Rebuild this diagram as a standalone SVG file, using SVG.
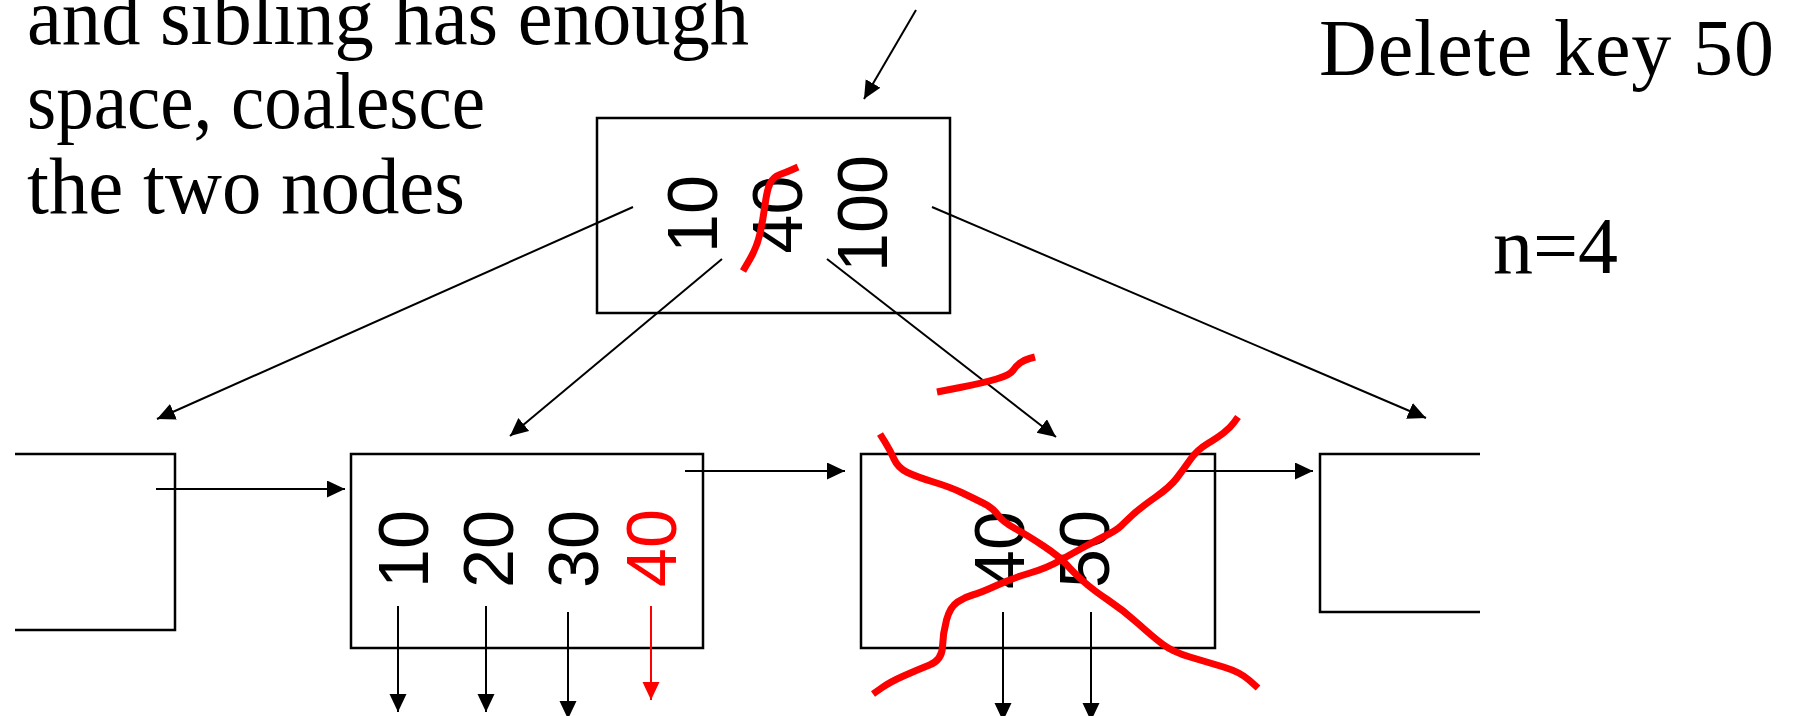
<svg xmlns="http://www.w3.org/2000/svg" width="1794" height="716" viewBox="0 0 1794 716">
<style>
.box{fill:none;stroke:#000;stroke-width:2.5}
.ln{fill:none;stroke:#000;stroke-width:2}
.lnr{fill:none;stroke:#f00;stroke-width:2}
.key{font-family:"Liberation Sans",Arial,sans-serif;font-size:70px;fill:#000}
.keyr{font-family:"Liberation Sans",Arial,sans-serif;font-size:70px;fill:#f00}
.note{font-family:"Liberation Serif","Times New Roman",serif;font-size:80px;fill:#000}
.scr{fill:none;stroke:#f00;stroke-width:7;stroke-linejoin:round;stroke-linecap:butt}
</style>
<defs>
<marker id="ah" markerUnits="userSpaceOnUse" markerWidth="19" markerHeight="18" refX="18" refY="8.5" orient="auto" viewBox="0 0 19 18">
<path d="M0,0 L18,8.5 L0,17 z" fill="#000"/>
</marker>
<marker id="ahr" markerUnits="userSpaceOnUse" markerWidth="19" markerHeight="18" refX="18" refY="8.5" orient="auto" viewBox="0 0 19 18">
<path d="M0,0 L18,8.5 L0,17 z" fill="#f00"/>
</marker>
</defs>

<g id="caption">
<text class="note" x="27" y="44" textLength="722" lengthAdjust="spacingAndGlyphs">and sibling has enough</text>
<text class="note" x="27" y="128" textLength="458" lengthAdjust="spacingAndGlyphs">space, coalesce</text>
<text class="note" x="27" y="213" textLength="438" lengthAdjust="spacingAndGlyphs">the two nodes</text>
</g>

<g id="title">
<text class="note" x="1319" y="75" textLength="455">Delete key 50</text>
<text class="note" x="1493" y="273">n=4</text>
</g>

<g id="node-root">
<rect class="box" x="597" y="118" width="353" height="195"/>
<text class="key" x="717" y="214" text-anchor="middle" transform="rotate(-90 717 214)">10</text>
<text class="key" x="802" y="214.5" text-anchor="middle" transform="rotate(-90 802 214.5)">40</text>
<text class="key" x="887" y="213.5" text-anchor="middle" transform="rotate(-90 887 213.5)">100</text>
<path class="scr" d="M743,271 L750,259 Q757,247 760,233.5 Q763,220 765,205 Q767,190 770,183.5 Q773,177 780,174.5 Q787,172 792.5,169.5 L798,167"/>
</g>

<g id="node-left">
<path class="box" d="M15,454 H175 V630 H15"/>
</g>

<g id="node-midleft">
<rect class="box" x="351" y="454" width="352" height="194"/>
<text class="key" x="428" y="549" text-anchor="middle" transform="rotate(-90 428 549)">10</text>
<text class="key" x="513" y="549" text-anchor="middle" transform="rotate(-90 513 549)">20</text>
<text class="key" x="598" y="549" text-anchor="middle" transform="rotate(-90 598 549)">30</text>
<text class="keyr" x="676" y="548" text-anchor="middle" transform="rotate(-90 676 548)">40</text>
</g>

<g id="node-midright">
<rect class="box" x="861" y="454" width="354" height="194"/>
<text class="key" x="1024" y="550" text-anchor="middle" transform="rotate(-90 1024 550)">40</text>
<text class="key" x="1109" y="549" text-anchor="middle" transform="rotate(-90 1109 549)">50</text>
</g>

<g id="node-right">
<path class="box" d="M1480,454 H1320 V612 H1480"/>
</g>

<g id="connectors">
<line class="ln" x1="916" y1="10" x2="864" y2="99" marker-end="url(#ah)"/>
<line class="ln" x1="633" y1="207" x2="157" y2="419" marker-end="url(#ah)"/>
<line class="ln" x1="722" y1="259" x2="510" y2="436" marker-end="url(#ah)"/>
<line class="ln" x1="827" y1="259" x2="1056" y2="437" marker-end="url(#ah)"/>
<line class="ln" x1="932" y1="207" x2="1426" y2="418" marker-end="url(#ah)"/>
<line class="ln" x1="156" y1="489" x2="345" y2="489" marker-end="url(#ah)"/>
<line class="ln" x1="685" y1="471" x2="845" y2="471" marker-end="url(#ah)"/>
<line class="ln" x1="1185" y1="471" x2="1313" y2="471" marker-end="url(#ah)"/>
<line class="ln" x1="398" y1="606" x2="398" y2="712" marker-end="url(#ah)"/>
<line class="ln" x1="486" y1="606" x2="486" y2="712" marker-end="url(#ah)"/>
<line class="ln" x1="568" y1="612" x2="568" y2="719" marker-end="url(#ah)"/>
<line class="lnr" x1="651" y1="606" x2="651" y2="700" marker-end="url(#ahr)"/>
<line class="ln" x1="1003" y1="612" x2="1003" y2="721" marker-end="url(#ah)"/>
<line class="ln" x1="1091" y1="612" x2="1091" y2="721" marker-end="url(#ah)"/>
</g>

<g id="scribbles">
<path class="scr" d="M937,392 L960,387.5 Q983,383 996.5,379 Q1010,375 1013,370.5 Q1016,366 1020,363 Q1024,360 1029.5,358.5 L1035,357"/>
<path class="scr" d="M880,434 L885,442 Q890,450 894,459 Q898,468 907.5,472.5 Q917,477 933.5,482 Q950,487 961.5,492.5 Q973,498 983,503 Q993,508 998,515 Q1003,522 1015,528.5 Q1027,535 1043.5,546 Q1060,557 1066.5,564.5 Q1073,572 1083,581 Q1093,590 1108,600 Q1123,610 1138,623.5 Q1153,637 1163,644.5 Q1173,652 1190,657 Q1207,662 1223.5,667 Q1240,672 1249,680 L1258,688"/>
<path class="scr" d="M873,694 L881.5,688 Q890,682 903.5,676 Q917,670 929.5,665 Q942,660 942.5,646.5 Q943,633 946.5,620 Q950,607 957.5,602 Q965,597 972.5,595 Q980,593 996.5,585.5 Q1013,578 1030,573 Q1047,568 1060,560.5 Q1073,553 1085,546.5 Q1097,540 1107,535 Q1117,530 1121,526 Q1125,522 1132.5,515 Q1140,508 1155,497.5 Q1170,487 1176.5,478.5 Q1183,470 1190,460 Q1197,450 1207,444 Q1217,438 1223.5,433 Q1230,428 1234,422.5 L1238,417"/>
</g>
</svg>
